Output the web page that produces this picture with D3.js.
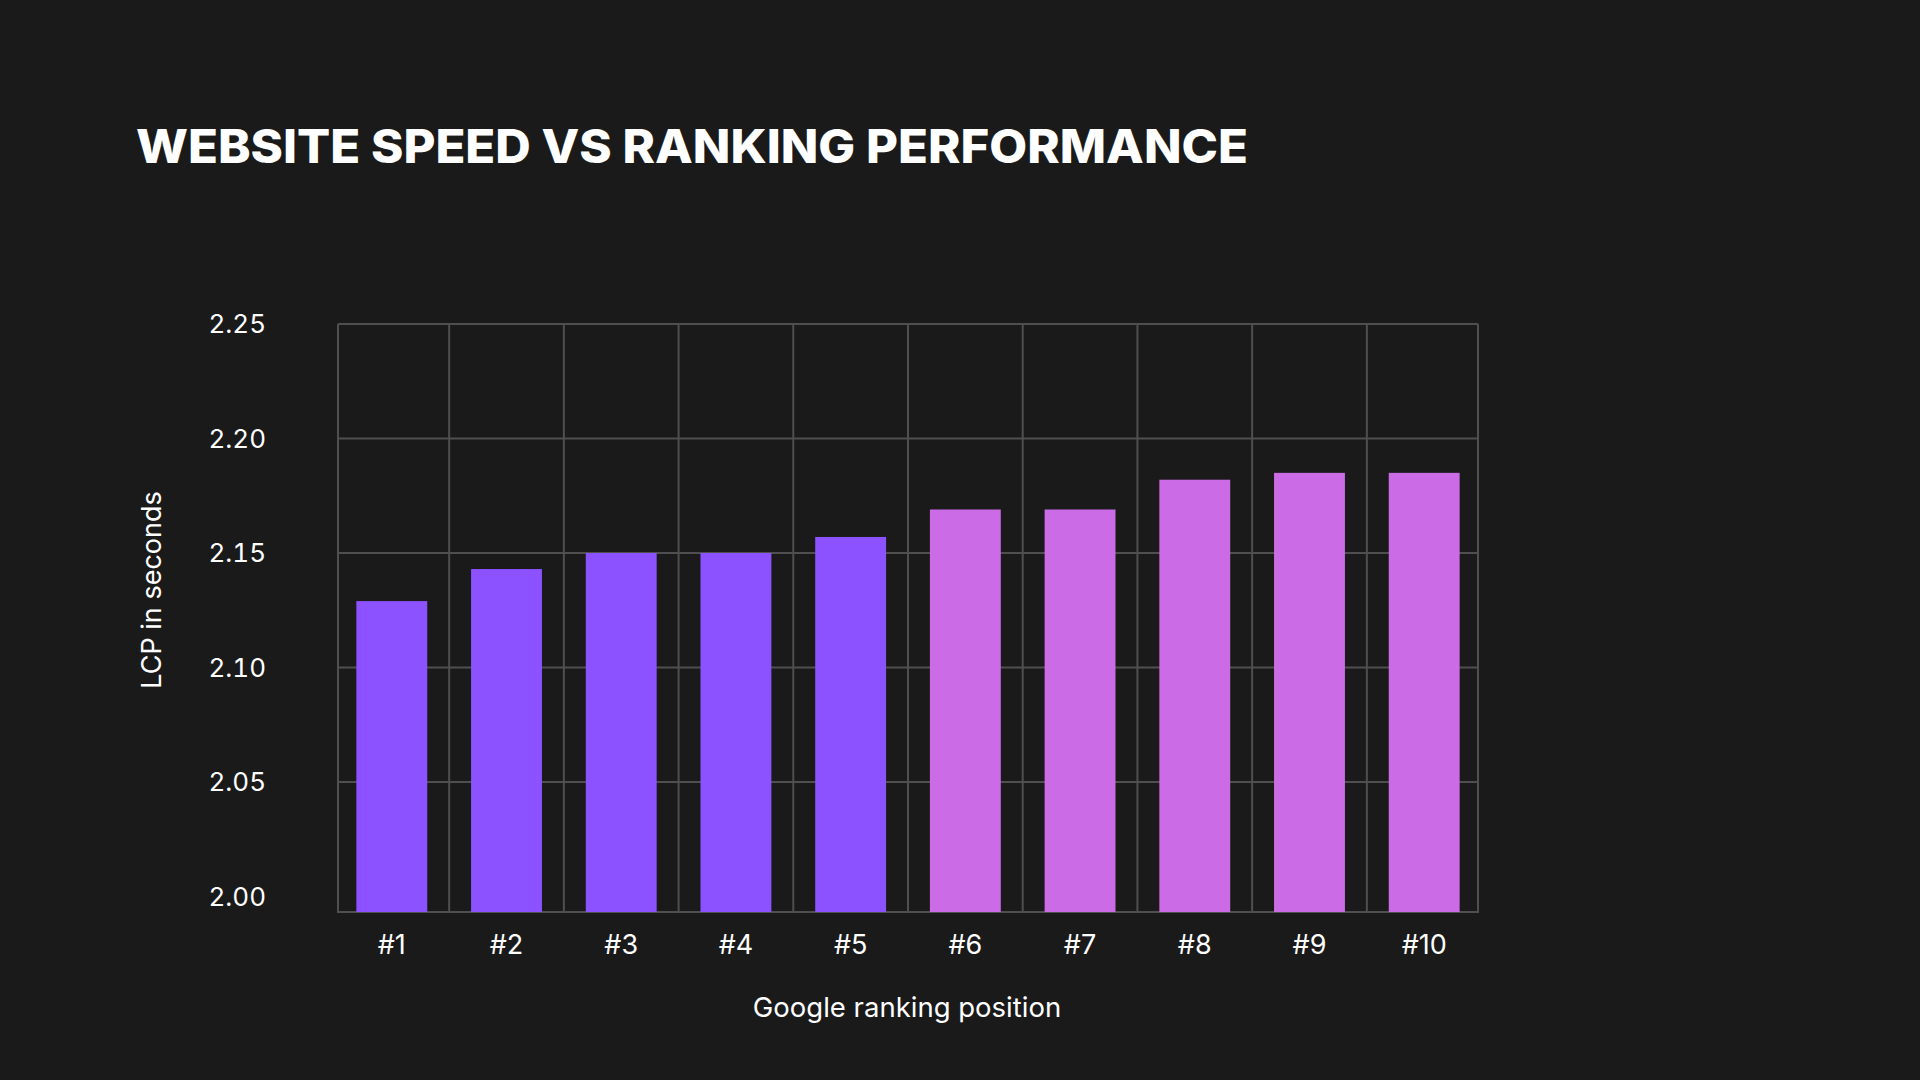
<!DOCTYPE html>
<html>
<head>
<meta charset="utf-8">
<script src="https://cdn.jsdelivr.net/npm/d3@7"></script>
<style>
  html, body { margin: 0; padding: 0; background: #1a1a1a; }
  svg { display: block; }
</style>
</head>
<body>
<script>
const positions = ['#1', '#2', '#3', '#4', '#5', '#6', '#7', '#8', '#9', '#10'];
const lcpSeconds = [2.129, 2.143, 2.150, 2.150, 2.157, 2.169, 2.169, 2.182, 2.185, 2.185];
const yTicks = [2.00, 2.05, 2.10, 2.15, 2.20, 2.25];
const topFive = ['#1', '#2', '#3', '#4', '#5'];

const width = 1920, height = 1080;
const plotLeft = 338, plotRight = 1478, plotTop = 324, plotBottom = 912;

const svg = d3.select('body').append('svg')
    .attr('width', width)
    .attr('height', height)
    .attr('xmlns', 'http://www.w3.org/2000/svg');

svg.append('rect').attr('width', width).attr('height', height).attr('fill', '#1a1a1a');

// title
const title = svg.append('text')
    .attr('x', 136)
    .attr('y', 163)
    .attr('font-family', 'Inter, Roboto, sans-serif')
    .attr('font-weight', 800)
    .attr('font-size', 46)
    .attr('fill', '#ffffff')
    .text('WEBSITE SPEED VS RANKING PERFORMANCE');
const tw = title.node().getComputedTextLength();
if (tw > 0) title.attr('textLength', 1112).attr('lengthAdjust', 'spacingAndGlyphs');

const x = d3.scaleBand()
    .domain(positions)
    .range([plotLeft, plotRight])
    .paddingInner(0.382)
    .paddingOuter(0.16);

// 2.00 sits a little above the plot floor in the original
const y = d3.scaleLinear()
    .domain([2.00, 2.25])
    .range([896.5, plotTop]);

const grid = svg.append('g').attr('stroke', '#4f4f4f').attr('stroke-width', 2);

// horizontal grid (no line at 2.00, the floor is drawn instead)
grid.selectAll('line.h')
    .data(yTicks.filter(d => d > 2.0))
    .join('line')
    .attr('class', 'h')
    .attr('x1', plotLeft).attr('x2', plotRight)
    .attr('y1', d => y(d)).attr('y2', d => y(d));

// vertical grid: plot edges plus midpoints between bars
const gap = x.step() - x.bandwidth();
const edges = [plotLeft].concat(positions.slice(0, -1).map(p => x(p) + x.bandwidth() + gap / 2), [plotRight]);
grid.selectAll('line.v')
    .data(edges)
    .join('line')
    .attr('class', 'v')
    .attr('x1', d => d).attr('x2', d => d)
    .attr('y1', plotTop).attr('y2', plotBottom + 1);

grid.append('line')
    .attr('x1', plotLeft).attr('x2', plotRight)
    .attr('y1', plotBottom).attr('y2', plotBottom);

// bars
svg.append('g')
    .selectAll('rect')
    .data(positions)
    .join('rect')
    .attr('x', d => x(d))
    .attr('width', x.bandwidth())
    .attr('y', (d, i) => y(lcpSeconds[i]))
    .attr('height', (d, i) => plotBottom - y(lcpSeconds[i]))
    .attr('fill', d => topFive.includes(d) ? '#8c52ff' : '#cb6ce6');

// y tick labels
svg.append('g')
    .selectAll('text')
    .data(yTicks)
    .join('text')
    .attr('x', 266)
    .attr('y', d => y(d))
    .attr('dy', '0.36em')
    .attr('text-anchor', 'end')
    .attr('font-family', 'Inter, sans-serif')
    .attr('font-size', 26)
    .style('font-variant-numeric', 'tabular-nums')
    .attr('fill', '#ffffff')
    .text(d => d.toFixed(2));

// x tick labels
svg.append('g')
    .selectAll('text')
    .data(positions)
    .join('text')
    .attr('x', d => x(d) + x.bandwidth() / 2)
    .attr('y', 954)
    .attr('text-anchor', 'middle')
    .attr('font-family', 'Inter, sans-serif')
    .attr('font-size', 27)
    .attr('fill', '#ffffff')
    .text(d => d);

// axis titles
svg.append('text')
    .attr('x', 907)
    .attr('y', 1017)
    .attr('text-anchor', 'middle')
    .attr('font-family', 'Inter, sans-serif')
    .attr('font-size', 27.5)
    .attr('fill', '#ffffff')
    .text('Google ranking position');

svg.append('text')
    .attr('transform', 'translate(161,590) rotate(-90)')
    .attr('text-anchor', 'middle')
    .attr('font-family', 'Inter, sans-serif')
    .attr('font-size', 27)
    .attr('fill', '#ffffff')
    .text('LCP in seconds');
</script>
</body>
</html>
